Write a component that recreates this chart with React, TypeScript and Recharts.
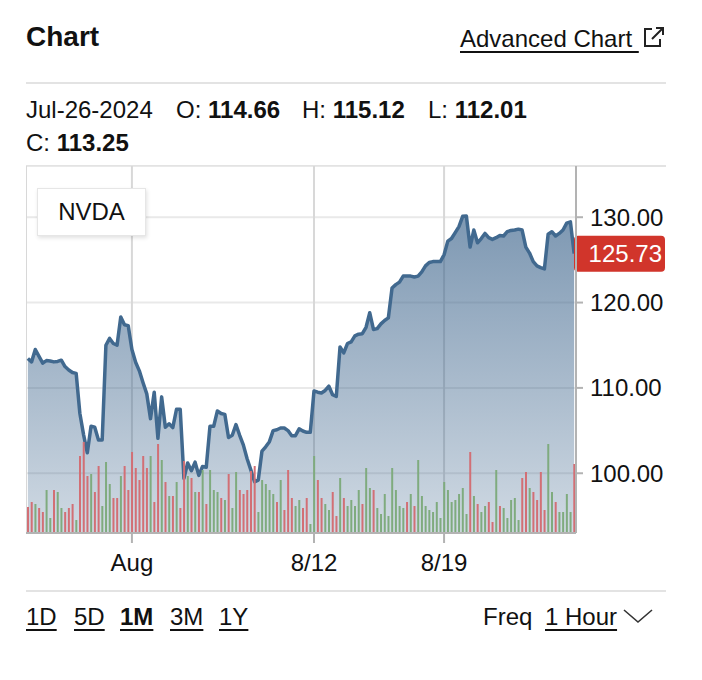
import React from 'react';
import { ComposedChart, Area, Bar, Cell, XAxis, YAxis, CartesianGrid, ReferenceLine } from 'recharts';

// Trading days shown (1-hour bars, 7 per day)
const tradingDays = [
  '07-26', '07-29', '07-30', '07-31', '08-01', '08-02', '08-05', '08-06', '08-07', '08-08', '08-09',
  '08-12', '08-13', '08-14', '08-15', '08-16', '08-19', '08-20', '08-21', '08-22', '08-23', '08-26',
];
const sessionHours = ['09:30', '10:30', '11:30', '12:30', '13:30', '14:30', '15:30'];

// Hourly closing prices
const closes = [
  113.45, 113.05, 114.5, 113.7, 112.9, 113.2, 113.15,
  113.05, 113.1, 113.25, 112.5, 112.1, 111.8, 111.7,
  107.0, 104.5, 102.4, 105.5, 105.4, 103.9, 103.9,
  115.0, 115.8, 115.2, 115.0, 118.3, 117.4, 117.3,
  114.5, 113.0, 112.0, 110.6, 109.3, 106.4, 109.5,
  104.1, 108.95, 105.4, 105.8, 105.35, 107.5, 107.5,
  99.4, 101.2, 100.3, 101.3, 99.75, 100.8, 100.7,
  105.5, 105.5, 107.3, 107.0, 106.9, 104.2, 104.45,
  105.7, 104.45, 103.3, 101.7, 100.4, 99.0, 99.2,
  102.6, 103.1, 103.7, 105.0, 105.1, 105.3, 105.3,
  105.0, 104.4, 104.4, 105.2, 104.95, 104.8, 104.8,
  109.65, 109.5, 109.4, 109.7, 110.2, 109.2, 109.0,
  114.8, 114.1, 115.2, 115.4, 116.1, 116.3, 116.35,
  117.1, 118.8, 116.85, 116.95, 117.5, 117.9, 118.2,
  121.7, 122.1, 122.4, 123.1, 123.1, 123.1, 123.0,
  123.1, 123.6, 124.3, 124.7, 124.8, 124.8, 124.8,
  125.6, 127.2, 127.5, 128.2, 128.9, 130.1, 130.15,
  126.5, 128.5, 127.0, 127.5, 128.1, 127.6, 127.4,
  127.6, 127.85, 127.8, 128.3, 128.45, 128.5, 128.6,
  128.5, 126.5, 125.8, 124.8, 124.3, 124.1, 123.95,
  128.0, 128.3, 127.8, 128.1, 128.5, 129.3, 129.45,
  125.73,
];

// Hourly volume (millions of shares, estimated)
const volumes = [
  26, 31, 29, 25, 21, 43, 15,
  43, 41, 25, 21, 25, 29, 13,
  77, 91, 57, 59, 41, 67, 27,
  71, 49, 35, 35, 57, 67, 43,
  81, 65, 53, 77, 65, 77, 31,
  89, 73, 51, 37, 37, 51, 25,
  72, 57, 55, 41, 41, 63, 29,
  63, 43, 41, 35, 33, 59, 25,
  61, 43, 39, 43, 62, 67, 21,
  53, 49, 43, 39, 31, 53, 23,
  63, 35, 27, 33, 25, 35, 9,
  77, 53, 35, 29, 23, 41, 17,
  55, 35, 27, 33, 27, 43, 29,
  65, 45, 43, 25, 19, 39, 17,
  65, 43, 27, 25, 31, 39, 27,
  73, 37, 27, 23, 21, 31, 15,
  51, 43, 31, 33, 39, 45, 19,
  81, 37, 29, 21, 27, 31, 11,
  63, 27, 25, 15, 33, 35, 13,
  55, 61, 45, 41, 33, 61, 23,
  89, 41, 31, 21, 21, 39, 21,
  69,
];

// Bar direction: u = up (green), d = down (red)
const volumeDirection = [
  'd', 'd', 'u', 'd', 'd', 'u', 'u',
  'd', 'u', 'u', 'd', 'd', 'd', 'u',
  'd', 'd', 'd', 'u', 'd', 'd', 'u',
  'u', 'u', 'd', 'd', 'u', 'd', 'd',
  'd', 'd', 'd', 'd', 'd', 'u', 'd',
  'd', 'u', 'd', 'u', 'd', 'u', 'd',
  'd', 'u', 'd', 'u', 'd', 'u', 'd',
  'u', 'u', 'u', 'd', 'u', 'd', 'u',
  'u', 'd', 'd', 'd', 'd', 'd', 'u',
  'u', 'u', 'u', 'u', 'd', 'u', 'd',
  'd', 'd', 'u', 'u', 'd', 'd', 'u',
  'u', 'd', 'd', 'u', 'u', 'd', 'd',
  'u', 'd', 'u', 'u', 'u', 'u', 'd',
  'u', 'u', 'd', 'u', 'u', 'u', 'u',
  'u', 'u', 'u', 'u', 'd', 'u', 'd',
  'u', 'u', 'u', 'u', 'u', 'u', 'u',
  'u', 'u', 'u', 'u', 'u', 'u', 'u',
  'd', 'u', 'd', 'u', 'u', 'd', 'd',
  'u', 'd', 'u', 'u', 'u', 'u', 'u',
  'd', 'd', 'u', 'd', 'd', 'd', 'd',
  'u', 'u', 'd', 'u', 'u', 'u', 'u',
  'd',
];

const tickTimes = ['08-01 09:30', '08-12 09:30', '08-19 09:30'];
const tickLabels = ['Aug', '8/12', '8/19'];
const priceTicks = [100, 110, 120, 130];
const priceDomain = [93, 136];
const volumeDomain = [0, 367];

const ranges = ['1D', '5D', '1M', '3M', '1Y'];
const rangeX = [26, 74, 120, 170, 219];
const activeRange = '1M';

const times: string[] = [];
tradingDays.forEach((d) => sessionHours.forEach((h) => times.push(`${d} ${h}`)));

const data = closes.map((c, i) => ({
  time: times[i],
  close: c,
  volume: volumes[i],
  dir: volumeDirection[i],
}));

const lastPrice = closes[closes.length - 1];

const UP = '#7fab7e';
const DOWN = '#d26f75';
const FONT = '"Liberation Sans", Arial, Helvetica, sans-serif';

const PriceBadge = (props: any) => {
  const vb = props.viewBox || {};
  const right = (vb.x || 0) + (vb.width || 0);
  const y = vb.y || 0;
  return (
    <g>
      <rect x={right - 2} y={y - 18} width={91} height={36} rx={4} ry={4} fill="#d1352b" />
      <text x={right + 86} y={y} dy="0.36em" textAnchor="end" fill="#ffffff" fontSize={24} fontFamily={FONT}>
        {lastPrice.toFixed(2)}
      </text>
    </g>
  );
};

const abs = (left: number, top: number, extra: any = {}) => ({
  position: 'absolute' as const,
  left,
  top,
  whiteSpace: 'nowrap' as const,
  ...extra,
});

const underline = {
  textDecoration: 'underline',
  textDecorationThickness: '2px',
  textUnderlineOffset: '4px',
};

export default function App() {
  return (
    <div
      style={{
        position: 'absolute',
        left: 0,
        top: 0,
        width: 702,
        height: 680,
        background: '#ffffff',
        overflow: 'hidden',
        fontFamily: FONT,
        color: '#111111',
        fontSize: 24,
        lineHeight: '24px',
      }}
    >
      <div style={abs(26, 23, { fontSize: 28, lineHeight: '28px', fontWeight: 'bold' })}>Chart</div>
      <div style={abs(460, 27, underline)}>Advanced Chart&nbsp;</div>
      <svg style={abs(642, 25)} width={24} height={24} viewBox="0 0 24 24">
        <path d="M10 4 H3 V21 H18 V14" fill="none" stroke="#222" strokeWidth={2} />
        <path d="M10 14 L21 3 M14 3 H21 V10" fill="none" stroke="#222" strokeWidth={2} />
      </svg>
      <div style={abs(26, 82, { width: 640, height: 2, background: '#e3e3e3' })} />

      <div style={abs(26, 98)}>Jul-26-2024</div>
      <div style={abs(176, 98)}>O: <b>114.66</b></div>
      <div style={abs(302, 98)}>H: <b>115.12</b></div>
      <div style={abs(428, 98)}>L: <b>112.01</b></div>
      <div style={abs(26, 131)}>C: <b>113.25</b></div>

      <div style={abs(26, 165, { width: 640, height: 2, background: '#e3e3e3' })} />

      <div style={abs(26, 166)}>
        <ComposedChart width={640} height={417} data={data} margin={{ top: 0, right: 0, bottom: 0, left: 0 }}>
          <defs>
            <linearGradient id="priceFill" x1="0" y1="0" x2="0" y2="1">
              <stop offset="0%" stopColor="#3b638b" stopOpacity={0.66} />
              <stop offset="100%" stopColor="#3b638b" stopOpacity={0.24} />
            </linearGradient>
          </defs>
          <CartesianGrid yAxisId="price" vertical={false} stroke="#e9e9e9" strokeWidth={2} />
          <CartesianGrid yAxisId="price" horizontal={false} stroke="#d8d8d8" strokeWidth={2} />
          <XAxis
            dataKey="time"
            ticks={tickTimes}
            interval={0}
            tickFormatter={(v: string) => tickLabels[tickTimes.indexOf(v)] || ''}
            height={50}
            tickSize={10}
            tickMargin={11}
            axisLine={{ stroke: '#b3b3b3', strokeWidth: 2 }}
            tickLine={{ stroke: '#b3b3b3', strokeWidth: 2 }}
            tick={{ fontSize: 24, fill: '#111111', fontFamily: FONT }}
          />
          <YAxis
            yAxisId="price"
            orientation="right"
            width={90}
            domain={priceDomain}
            allowDataOverflow
            ticks={priceTicks}
            tickFormatter={(v: number) => v.toFixed(2)}
            tickSize={7}
            tickMargin={7}
            axisLine={{ stroke: '#b3b3b3', strokeWidth: 2 }}
            tickLine={{ stroke: '#b3b3b3', strokeWidth: 2 }}
            tick={{ fontSize: 24, fill: '#111111', fontFamily: FONT }}
          />
          <YAxis yAxisId="vol" hide domain={volumeDomain} allowDataOverflow />
          <Bar yAxisId="vol" dataKey="volume" barSize={2} isAnimationActive={false}>
            {data.map((d, i) => (
              <Cell key={i} fill={d.dir === 'u' ? UP : DOWN} />
            ))}
          </Bar>
          <Area
            yAxisId="price"
            type="linear"
            dataKey="close"
            stroke="#41698f"
            strokeWidth={3.5}
            strokeLinejoin="round"
            fill="url(#priceFill)"
            fillOpacity={1}
            dot={false}
            activeDot={false}
            isAnimationActive={false}
          />
          <ReferenceLine yAxisId="price" y={lastPrice} stroke="none" label={<PriceBadge />} />
        </ComposedChart>
      </div>

      <div
        style={abs(37, 188, {
          width: 109,
          height: 48,
          boxSizing: 'border-box',
          background: '#ffffff',
          border: '1px solid #e6e6e6',
          boxShadow: '1px 2px 4px rgba(0,0,0,0.12)',
          textAlign: 'center',
          lineHeight: '46px',
        })}
      >
        NVDA
      </div>

      <div style={abs(26, 590, { width: 640, height: 2, background: '#e3e3e3' })} />

      {ranges.map((r, i) => (
        <div key={r} style={abs(rangeX[i], 605, { ...underline, fontWeight: r === activeRange ? 'bold' : 'normal' })}>
          {r}
        </div>
      ))}
      <div style={abs(483, 605)}>Freq</div>
      <div style={abs(545, 605, underline)}>1 Hour</div>
      <svg style={abs(622, 606)} width={32} height={20} viewBox="0 0 32 20">
        <polyline points="2,4 16,16 30,4" fill="none" stroke="#333" strokeWidth={1.6} />
      </svg>
    </div>
  );
}
